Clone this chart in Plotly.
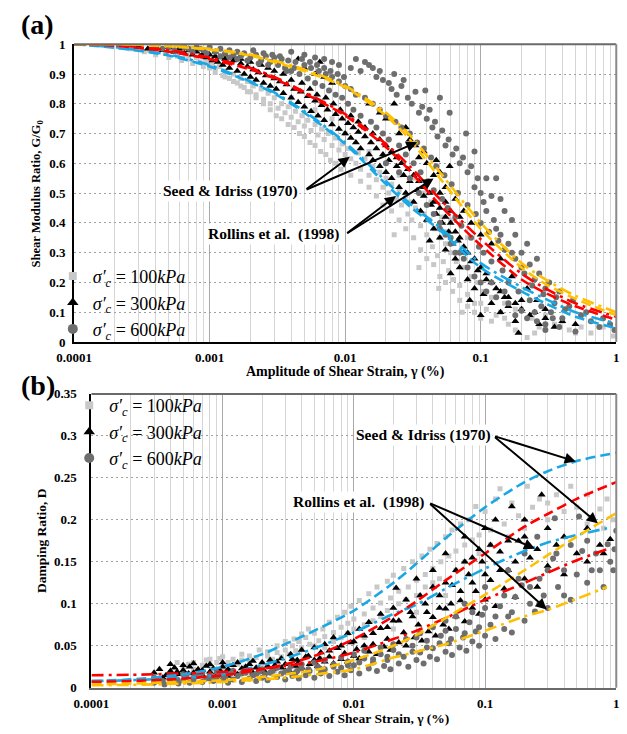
import math
import plotly.graph_objects as go

W, H = 627, 734
SERIF = "Liberation Serif, Times New Roman, serif"

# ---------------------------------------------------------------- data
# reference curves share a strain grid (%)
curve_strain = [0.0001, 0.0002, 0.0005, 0.001, 0.002, 0.003, 0.005, 0.01,
                0.02, 0.03, 0.05, 0.1, 0.2, 0.3, 0.5, 1.0]

# (a) G/G0 curves
gg_seed_lower = [1.0, 0.988, 0.962, 0.925, 0.872, 0.835, 0.77, 0.665,
                 0.53, 0.455, 0.375, 0.25, 0.17, 0.13, 0.085, 0.046]
gg_seed_mean = [1.0, 0.995, 0.975, 0.95, 0.915, 0.885, 0.835, 0.76,
                0.655, 0.575, 0.46, 0.325, 0.21, 0.165, 0.12, 0.075]
gg_seed_upper = [1.0, 1.0, 0.993, 0.982, 0.962, 0.94, 0.91, 0.855,
                 0.76, 0.68, 0.55, 0.38, 0.25, 0.195, 0.145, 0.09]
gg_rollins_lower = [1.0, 0.99, 0.965, 0.93, 0.875, 0.838, 0.775, 0.67,
                    0.54, 0.465, 0.385, 0.265, 0.185, 0.145, 0.1, 0.062]
gg_rollins_mean = [1.0, 0.997, 0.98, 0.955, 0.92, 0.89, 0.84, 0.765,
                   0.665, 0.59, 0.48, 0.345, 0.23, 0.18, 0.13, 0.085]
gg_rollins_upper = [1.0, 1.0, 0.995, 0.985, 0.965, 0.945, 0.915, 0.86,
                    0.77, 0.695, 0.57, 0.4, 0.265, 0.21, 0.155, 0.1]

# (b) damping curves
d_seed_upper = [0.008, 0.010, 0.016, 0.025, 0.04, 0.052, 0.068, 0.092,
                0.125, 0.148, 0.178, 0.215, 0.245, 0.258, 0.27, 0.28]
d_seed_mean = [0.007, 0.008, 0.011, 0.015, 0.022, 0.028, 0.038, 0.058,
               0.085, 0.103, 0.128, 0.16, 0.192, 0.207, 0.225, 0.245]
d_seed_lower = [0.004, 0.005, 0.007, 0.009, 0.013, 0.016, 0.021, 0.033,
                0.05, 0.063, 0.083, 0.111, 0.14, 0.158, 0.18, 0.208]
rollins_d_strain = [0.0001, 0.0002, 0.0005, 0.001, 0.002, 0.003, 0.005, 0.01,
                    0.02, 0.03, 0.05, 0.1, 0.2, 0.3, 0.5, 0.85]
d_rollins_upper = [0.008, 0.009, 0.012, 0.016, 0.027, 0.035, 0.047, 0.066,
                   0.088, 0.099, 0.118, 0.142, 0.163, 0.173, 0.182, 0.19]
d_rollins_mean = [0.015, 0.0155, 0.017, 0.019, 0.023, 0.026, 0.031, 0.042,
                  0.058, 0.068, 0.083, 0.105, 0.125, 0.137, 0.152, 0.165]
d_rollins_lower = [0.003, 0.0035, 0.005, 0.007, 0.01, 0.012, 0.016, 0.022,
                   0.036, 0.043, 0.052, 0.068, 0.085, 0.093, 0.106, 0.12]

# (a) measured G/G0, (strain %, G/G0)
gg_100 = [
    (0.00022, 0.99), (0.00026, 0.985), (0.0003, 0.99), (0.00033, 0.975), (0.00036, 0.98),
    (0.0004, 0.965), (0.00043, 0.985), (0.00047, 0.97), (0.0005, 0.955), (0.00054, 0.975),
    (0.00058, 0.96), (0.00062, 0.945), (0.00066, 0.965), (0.0007, 0.95), (0.00075, 0.935),
    (0.0008, 0.955), (0.00085, 0.94), (0.0009, 0.925), (0.00095, 0.945),
    (0.001, 0.92), (0.00105, 0.935), (0.0011, 0.905), (0.00118, 0.925), (0.00125, 0.895),
    (0.0013, 0.91), (0.0014, 0.885), (0.0015, 0.9), (0.0016, 0.87), (0.0017, 0.885),
    (0.0018, 0.855), (0.0019, 0.875), (0.002, 0.84), (0.0021, 0.86), (0.0022, 0.83),
    (0.0024, 0.85), (0.0025, 0.815), (0.0027, 0.835), (0.0028, 0.8),
    (0.003, 0.82), (0.0032, 0.785), (0.0034, 0.8), (0.0036, 0.77), (0.0038, 0.79),
    (0.004, 0.755), (0.0043, 0.775), (0.0045, 0.74), (0.0048, 0.76), (0.005, 0.725),
    (0.0053, 0.745), (0.0056, 0.71), (0.006, 0.73), (0.0063, 0.695), (0.0067, 0.715),
    (0.007, 0.68), (0.0075, 0.7), (0.008, 0.66), (0.0085, 0.685), (0.009, 0.645),
    (0.0095, 0.665),
    (0.01, 0.63), (0.0105, 0.65), (0.011, 0.615), (0.012, 0.6), (0.0125, 0.635),
    (0.013, 0.58), (0.014, 0.615), (0.015, 0.56), (0.016, 0.59), (0.017, 0.545),
    (0.018, 0.57), (0.019, 0.52), (0.02, 0.55), (0.021, 0.5), (0.022, 0.53),
    (0.023, 0.36), (0.024, 0.48), (0.025, 0.51), (0.026, 0.46), (0.028, 0.49),
    (0.029, 0.43),
    (0.03, 0.47), (0.031, 0.41), (0.032, 0.55), (0.033, 0.45), (0.035, 0.25),
    (0.036, 0.39), (0.037, 0.5), (0.038, 0.43), (0.04, 0.36), (0.042, 0.41),
    (0.043, 0.47), (0.044, 0.32), (0.046, 0.38), (0.048, 0.29), (0.049, 0.18),
    (0.05, 0.35), (0.052, 0.42), (0.053, 0.27), (0.055, 0.33), (0.057, 0.37),
    (0.058, 0.24), (0.06, 0.3), (0.063, 0.21), (0.066, 0.27), (0.07, 0.19),
    (0.073, 0.1), (0.075, 0.25), (0.08, 0.16), (0.085, 0.22), (0.09, 0.13),
    (0.095, 0.2),
    (0.1, 0.08), (0.105, 0.17), (0.11, 0.11), (0.12, 0.15), (0.13, 0.09),
    (0.14, 0.1), (0.15, 0.13), (0.16, 0.06), (0.18, 0.11), (0.2, 0.11),
    (0.22, 0.015), (0.24, 0.08), (0.27, 0.05), (0.3, 0.09), (0.35, 0.06),
    (0.4, 0.07), (0.45, 0.04), (0.55, 0.05), (0.65, 0.03), (0.8, 0.05),
    (0.95, 0.02),
    (0.0005, 0.985), (0.0006, 0.975), (0.0007, 0.97), (0.0009, 0.96), (0.0011, 0.92),
    (0.0013, 0.89), (0.0015, 0.875), (0.0017, 0.86), (0.0019, 0.84), (0.0022, 0.82),
    (0.0025, 0.8), (0.0028, 0.78), (0.0031, 0.76), (0.0034, 0.75), (0.0038, 0.73),
    (0.0042, 0.72), (0.0046, 0.7), (0.005, 0.69), (0.0055, 0.67), (0.006, 0.66),
    (0.0066, 0.64), (0.0072, 0.63), (0.0078, 0.61), (0.0085, 0.6), (0.0093, 0.58),
    (0.011, 0.56), (0.013, 0.54), (0.015, 0.52), (0.017, 0.49), (0.019, 0.46),
    (0.022, 0.44), (0.025, 0.41), (0.028, 0.38), (0.032, 0.35), (0.036, 0.31),
    (0.04, 0.28), (0.045, 0.26), (0.05, 0.22), (0.055, 0.2), (0.062, 0.17),
    (0.07, 0.14), (0.08, 0.12), (0.09, 0.1), (0.1, 0.13), (0.12, 0.07),
    (0.15, 0.08), (0.18, 0.04), (0.25, 0.03), (0.3, 0.05), (0.5, 0.03),
    (0.004, 0.82), (0.006, 0.78), (0.008, 0.75), (0.01, 0.7), (0.015, 0.64),
    (0.02, 0.6), (0.025, 0.56), (0.04, 0.5), (0.06, 0.41), (0.08, 0.35),
]

gg_300 = [
    (0.0003, 0.995), (0.00035, 0.985), (0.0004, 0.99), (0.00045, 0.98), (0.0005, 0.99),
    (0.00055, 0.975), (0.0006, 0.985), (0.00065, 0.97), (0.0007, 0.98), (0.00075, 0.965),
    (0.0008, 0.975), (0.00085, 0.96), (0.0009, 0.97), (0.00095, 0.955),
    (0.001, 0.965), (0.00105, 0.945), (0.0011, 0.96), (0.00115, 0.94), (0.0012, 0.955),
    (0.00125, 0.93), (0.0013, 0.95), (0.0014, 0.92), (0.0015, 0.945), (0.0016, 0.91),
    (0.0017, 0.935), (0.0018, 0.9), (0.0019, 0.925), (0.002, 0.89), (0.0021, 0.915),
    (0.0022, 0.88), (0.0023, 0.905), (0.0025, 0.87), (0.0026, 0.895), (0.0028, 0.86),
    (0.003, 0.885), (0.0031, 0.85), (0.0033, 0.875), (0.0035, 0.835), (0.0037, 0.865),
    (0.004, 0.82), (0.0042, 0.85), (0.0045, 0.95), (0.0045, 0.805), (0.0047, 0.84),
    (0.005, 0.79), (0.005, 0.92), (0.0053, 0.825), (0.0056, 0.775), (0.006, 0.81),
    (0.006, 0.9), (0.0063, 0.76), (0.0065, 0.94), (0.0067, 0.795), (0.007, 0.745),
    (0.007, 0.89), (0.0074, 0.78), (0.008, 0.73), (0.008, 0.87), (0.0085, 0.765),
    (0.009, 0.715), (0.0095, 0.75),
    (0.01, 0.7), (0.0105, 0.735), (0.011, 0.685), (0.0115, 0.72), (0.012, 0.67),
    (0.0125, 0.705), (0.013, 0.65), (0.014, 0.69), (0.015, 0.63), (0.0155, 0.67),
    (0.016, 0.61), (0.017, 0.65), (0.018, 0.59), (0.019, 0.63), (0.02, 0.57),
    (0.02, 0.75), (0.021, 0.61), (0.022, 0.55), (0.023, 0.8), (0.024, 0.59),
    (0.025, 0.52), (0.025, 0.7), (0.027, 0.56), (0.028, 0.5),
    (0.03, 0.54), (0.03, 0.68), (0.032, 0.47), (0.034, 0.51), (0.035, 0.62),
    (0.036, 0.44), (0.038, 0.49), (0.04, 0.41), (0.04, 0.6), (0.042, 0.34),
    (0.043, 0.46), (0.045, 0.38), (0.045, 0.56), (0.047, 0.43), (0.047, 0.61),
    (0.05, 0.35), (0.05, 0.5), (0.052, 0.4), (0.055, 0.31), (0.055, 0.47),
    (0.058, 0.37), (0.059, 0.59), (0.06, 0.23), (0.06, 0.44), (0.062, 0.33),
    (0.065, 0.28), (0.068, 0.34), (0.07, 0.25), (0.07, 0.42), (0.075, 0.3),
    (0.08, 0.21), (0.083, 0.14), (0.085, 0.27), (0.09, 0.18), (0.095, 0.24),
    (0.1, 0.09), (0.105, 0.16), (0.11, 0.21), (0.12, 0.13), (0.13, 0.18),
    (0.14, 0.1), (0.15, 0.15), (0.16, 0.12), (0.18, 0.07), (0.19, 0.03),
    (0.2, 0.11), (0.23, 0.09), (0.27, 0.06), (0.3, 0.08), (0.35, 0.05),
    (0.4, 0.07),
    (0.0011, 0.975), (0.0013, 0.965), (0.0015, 0.96), (0.0017, 0.95), (0.002, 0.94),
    (0.0024, 0.93), (0.0027, 0.92), (0.003, 0.91), (0.0035, 0.9), (0.004, 0.88),
    (0.0048, 0.87), (0.0055, 0.85), (0.0062, 0.83), (0.0072, 0.82), (0.0082, 0.8),
    (0.0092, 0.78), (0.011, 0.76), (0.0125, 0.74), (0.014, 0.72), (0.016, 0.7),
    (0.018, 0.68), (0.02, 0.66), (0.022, 0.64), (0.024, 0.62), (0.026, 0.6),
    (0.029, 0.58), (0.032, 0.56), (0.035, 0.54), (0.038, 0.52), (0.042, 0.5),
    (0.045, 0.47), (0.05, 0.45), (0.055, 0.42), (0.06, 0.4), (0.065, 0.37),
    (0.07, 0.35), (0.075, 0.32), (0.08, 0.3), (0.09, 0.28), (0.1, 0.25),
    (0.11, 0.23), (0.12, 0.2), (0.14, 0.17), (0.16, 0.15), (0.18, 0.13),
    (0.2, 0.14), (0.25, 0.1), (0.3, 0.11), (0.5, 0.06),
    (0.015, 0.8), (0.018, 0.77), (0.028, 0.72), (0.033, 0.66), (0.038, 0.64),
    (0.05, 0.57), (0.055, 0.52), (0.065, 0.48), (0.075, 0.44), (0.085, 0.4),
    (0.1, 0.36), (0.12, 0.33), (0.14, 0.28), (0.17, 0.22), (0.22, 0.18),
    (0.26, 0.14),
]

gg_600 = [
    (0.0004, 0.995), (0.0005, 0.99), (0.0006, 0.995), (0.0007, 0.985), (0.0008, 0.99),
    (0.0009, 0.98), (0.001, 0.99), (0.0011, 0.975), (0.0012, 0.985), (0.0013, 0.97),
    (0.0014, 0.98), (0.0015, 0.965), (0.0016, 0.975), (0.0017, 0.96), (0.0018, 0.97),
    (0.002, 0.955), (0.0022, 0.965), (0.0024, 0.945), (0.0026, 0.96), (0.0028, 0.94),
    (0.003, 0.955), (0.0032, 0.93), (0.0034, 0.95), (0.0036, 0.92), (0.0038, 0.945),
    (0.004, 0.91), (0.004, 0.975), (0.0043, 0.94), (0.0046, 0.9), (0.005, 0.93),
    (0.005, 0.965), (0.0053, 0.885), (0.0056, 0.92), (0.006, 0.87), (0.006, 0.955),
    (0.0064, 0.91), (0.0068, 0.86), (0.007, 0.95), (0.0072, 0.9), (0.0076, 0.845),
    (0.008, 0.89), (0.008, 0.94), (0.0085, 0.83), (0.009, 0.875), (0.009, 0.93),
    (0.0095, 0.82),
    (0.01, 0.86), (0.0105, 0.8), (0.011, 0.85), (0.011, 0.92), (0.0115, 0.78),
    (0.012, 0.83), (0.013, 0.76), (0.013, 0.91), (0.014, 0.82), (0.015, 0.93),
    (0.0155, 0.74), (0.016, 0.8), (0.017, 0.72), (0.017, 0.89), (0.018, 0.78),
    (0.019, 0.7), (0.02, 0.76), (0.021, 0.68), (0.023, 0.9), (0.0235, 0.74),
    (0.025, 0.66), (0.026, 0.72), (0.027, 0.88), (0.028, 0.63),
    (0.03, 0.7), (0.032, 0.6), (0.034, 0.67), (0.036, 0.57), (0.038, 0.65),
    (0.039, 0.845), (0.041, 0.54), (0.043, 0.62), (0.045, 0.51), (0.047, 0.59),
    (0.05, 0.82), (0.05, 0.4), (0.052, 0.48), (0.054, 0.56), (0.057, 0.45),
    (0.059, 0.77), (0.06, 0.35), (0.061, 0.53), (0.065, 0.42), (0.068, 0.5),
    (0.07, 0.3), (0.072, 0.39), (0.078, 0.7), (0.08, 0.46), (0.085, 0.35),
    (0.09, 0.64), (0.09, 0.22), (0.092, 0.43), (0.097, 0.32),
    (0.1, 0.4), (0.105, 0.3), (0.11, 0.55), (0.115, 0.37), (0.12, 0.27),
    (0.12, 0.2), (0.13, 0.55), (0.135, 0.34), (0.14, 0.48), (0.145, 0.24),
    (0.15, 0.31), (0.15, 0.17), (0.16, 0.2), (0.17, 0.41), (0.18, 0.28),
    (0.19, 0.17), (0.2, 0.25), (0.2, 0.105), (0.22, 0.33), (0.23, 0.14),
    (0.25, 0.21), (0.25, 0.1), (0.26, 0.28), (0.28, 0.12), (0.3, 0.18),
    (0.3, 0.06), (0.33, 0.1), (0.34, 0.08), (0.36, 0.15), (0.4, 0.08),
    (0.45, 0.12), (0.5, 0.035), (0.55, 0.09), (0.65, 0.07), (0.75, 0.05),
    (0.9, 0.06), (0.97, 0.04),
    (0.012, 0.95), (0.014, 0.94), (0.016, 0.92), (0.018, 0.91), (0.019, 0.88),
    (0.021, 0.87), (0.022, 0.85), (0.024, 0.83), (0.026, 0.86), (0.029, 0.82),
    (0.031, 0.8), (0.033, 0.84), (0.035, 0.77), (0.037, 0.79), (0.04, 0.75),
    (0.042, 0.78), (0.044, 0.72), (0.046, 0.74), (0.048, 0.69), (0.052, 0.71),
    (0.055, 0.66), (0.058, 0.68), (0.062, 0.63), (0.066, 0.65), (0.07, 0.6),
    (0.074, 0.62), (0.08, 0.57), (0.085, 0.59), (0.09, 0.52), (0.095, 0.55),
    (0.1, 0.5), (0.105, 0.47), (0.11, 0.44), (0.12, 0.49), (0.125, 0.41),
    (0.13, 0.38), (0.14, 0.36), (0.15, 0.44), (0.16, 0.33), (0.17, 0.3),
    (0.18, 0.36), (0.2, 0.3), (0.21, 0.23), (0.23, 0.26), (0.24, 0.19),
    (0.27, 0.23), (0.29, 0.16), (0.32, 0.2), (0.35, 0.13), (0.38, 0.17),
    (0.42, 0.11), (0.48, 0.14), (0.6, 0.1), (0.8, 0.08),
    (0.02, 0.6), (0.025, 0.57), (0.03, 0.55), (0.035, 0.5), (0.04, 0.46),
    (0.045, 0.43), (0.05, 0.38), (0.055, 0.36), (0.06, 0.33), (0.065, 0.3),
    (0.075, 0.28), (0.08, 0.25), (0.1, 0.2), (0.11, 0.17), (0.13, 0.15),
    (0.16, 0.13), (0.18, 0.09), (0.22, 0.08), (0.26, 0.07), (0.3, 0.04),
    (0.38, 0.05),
    (0.00045, 0.985), (0.00055, 0.98), (0.00065, 0.99), (0.00075, 0.975), (0.00085, 0.985),
    (0.00095, 0.97), (0.0012, 0.96), (0.0014, 0.955), (0.0016, 0.95), (0.0019, 0.945),
    (0.0021, 0.98), (0.0023, 0.935), (0.0025, 0.97), (0.0027, 0.93), (0.0029, 0.965),
    (0.0033, 0.96), (0.0037, 0.91), (0.0042, 0.92), (0.0048, 0.95), (0.0055, 0.94),
    (0.0062, 0.93), (0.007, 0.92), (0.0078, 0.91), (0.0088, 0.9), (0.0098, 0.89),
]

# (b) measured damping, (strain %, D)
d_100 = [
    (0.0003, 0.012), (0.0004, 0.015), (0.00045, 0.03), (0.0005, 0.016), (0.00055, 0.028),
    (0.0006, 0.022), (0.0007, 0.018), (0.00075, 0.033), (0.0008, 0.026), (0.0009, 0.02),
    (0.00095, 0.035), (0.001, 0.024), (0.0011, 0.03), (0.0012, 0.021), (0.0013, 0.028),
    (0.0014, 0.033), (0.0015, 0.025), (0.0016, 0.031), (0.0017, 0.015), (0.0018, 0.036),
    (0.002, 0.029), (0.0022, 0.038), (0.0024, 0.034), (0.0025, 0.02), (0.0026, 0.042),
    (0.0028, 0.037), (0.003, 0.045), (0.0032, 0.04), (0.0034, 0.05), (0.0035, 0.025),
    (0.0036, 0.044), (0.0038, 0.055), (0.004, 0.048), (0.0043, 0.06), (0.0046, 0.052),
    (0.005, 0.065), (0.0054, 0.056), (0.0055, 0.035), (0.0058, 0.07), (0.006, 0.061),
    (0.0065, 0.078), (0.007, 0.066), (0.0075, 0.084), (0.008, 0.072), (0.0085, 0.09),
    (0.009, 0.077), (0.0095, 0.097),
    (0.01, 0.082), (0.011, 0.104), (0.012, 0.088), (0.012, 0.06), (0.013, 0.112),
    (0.014, 0.095), (0.015, 0.12), (0.016, 0.101), (0.018, 0.127), (0.019, 0.107),
    (0.02, 0.134), (0.02, 0.07), (0.022, 0.115), (0.024, 0.142), (0.026, 0.12),
    (0.028, 0.15), (0.03, 0.128), (0.03, 0.09), (0.033, 0.157), (0.035, 0.135),
    (0.038, 0.165), (0.04, 0.142), (0.043, 0.172), (0.046, 0.15), (0.05, 0.18),
    (0.05, 0.11), (0.053, 0.157), (0.056, 0.188), (0.06, 0.163), (0.065, 0.195),
    (0.07, 0.17), (0.075, 0.2), (0.08, 0.176), (0.085, 0.216), (0.09, 0.182),
    (0.1, 0.21), (0.11, 0.188), (0.12, 0.225), (0.13, 0.237), (0.14, 0.195),
    (0.16, 0.22), (0.18, 0.205), (0.21, 0.24), (0.23, 0.215), (0.26, 0.225),
    (0.3, 0.2), (0.35, 0.23), (0.4, 0.21), (0.5, 0.215), (0.6, 0.195),
    (0.75, 0.213), (0.85, 0.225), (0.95, 0.2),
    (0.0005, 0.025), (0.0006, 0.03), (0.0007, 0.027), (0.0008, 0.034), (0.0009, 0.03),
    (0.001, 0.037), (0.0012, 0.034), (0.0014, 0.04), (0.0016, 0.038), (0.0019, 0.045),
    (0.0022, 0.043), (0.0026, 0.05), (0.003, 0.055), (0.0035, 0.058), (0.004, 0.064),
    (0.0045, 0.07), (0.005, 0.05), (0.006, 0.048), (0.007, 0.055), (0.008, 0.06),
    (0.009, 0.065), (0.01, 0.07), (0.012, 0.075), (0.014, 0.08), (0.016, 0.085),
    (0.018, 0.092), (0.022, 0.1), (0.025, 0.105), (0.03, 0.11), (0.035, 0.12),
    (0.04, 0.125), (0.045, 0.13), (0.06, 0.14), (0.07, 0.15), (0.09, 0.16),
    (0.11, 0.17), (0.15, 0.18), (0.2, 0.19), (0.3, 0.22), (0.45, 0.24),
    (0.6, 0.23), (0.8, 0.19),
]

d_300 = [
    (0.0003, 0.018), (0.00033, 0.022), (0.00037, 0.015), (0.0004, 0.02), (0.00043, 0.024),
    (0.00046, 0.016), (0.0005, 0.021), (0.00053, 0.013), (0.00056, 0.025), (0.0006, 0.018),
    (0.00065, 0.022), (0.0007, 0.015), (0.00075, 0.026), (0.0008, 0.019), (0.00085, 0.023),
    (0.0009, 0.014), (0.00095, 0.021), (0.001, 0.025), (0.00105, 0.017), (0.0011, 0.022),
    (0.00115, 0.019), (0.0012, 0.027), (0.0013, 0.016), (0.0014, 0.023), (0.0015, 0.02),
    (0.0016, 0.028), (0.0017, 0.018), (0.0018, 0.024), (0.0019, 0.021), (0.002, 0.03),
    (0.0021, 0.019), (0.0022, 0.026), (0.0024, 0.022), (0.0026, 0.031), (0.0028, 0.024),
    (0.003, 0.028), (0.0032, 0.021), (0.0034, 0.034), (0.0036, 0.026), (0.0038, 0.03),
    (0.004, 0.024), (0.0043, 0.037), (0.0046, 0.028), (0.005, 0.033), (0.0053, 0.026),
    (0.0056, 0.042), (0.006, 0.031), (0.0065, 0.037), (0.007, 0.029), (0.0075, 0.047),
    (0.008, 0.034), (0.0085, 0.041), (0.009, 0.031), (0.0095, 0.054),
    (0.01, 0.038), (0.0105, 0.046), (0.011, 0.035), (0.012, 0.062), (0.013, 0.043),
    (0.014, 0.052), (0.015, 0.04), (0.016, 0.071), (0.017, 0.049), (0.018, 0.058),
    (0.019, 0.045), (0.02, 0.08), (0.021, 0.119), (0.022, 0.054), (0.024, 0.066),
    (0.025, 0.05), (0.027, 0.09), (0.029, 0.06), (0.03, 0.13), (0.031, 0.075),
    (0.033, 0.056), (0.035, 0.1), (0.037, 0.067), (0.04, 0.084), (0.04, 0.14),
    (0.042, 0.062), (0.045, 0.11), (0.048, 0.075), (0.05, 0.094), (0.05, 0.16),
    (0.053, 0.07), (0.056, 0.122), (0.06, 0.085), (0.065, 0.104), (0.07, 0.079),
    (0.07, 0.18), (0.075, 0.135), (0.08, 0.095), (0.08, 0.155), (0.085, 0.115),
    (0.09, 0.088), (0.095, 0.15), (0.1, 0.105), (0.1, 0.19), (0.11, 0.128),
    (0.12, 0.097), (0.12, 0.2), (0.13, 0.162), (0.14, 0.118), (0.15, 0.14),
    (0.16, 0.216), (0.17, 0.108), (0.18, 0.175), (0.2, 0.13), (0.2, 0.2),
    (0.22, 0.155), (0.25, 0.12), (0.27, 0.23), (0.3, 0.145), (0.35, 0.17),
    (0.4, 0.135), (0.5, 0.16), (0.6, 0.15), (0.75, 0.17), (0.9, 0.177),
    (0.00035, 0.012), (0.0004, 0.028), (0.00045, 0.019), (0.0005, 0.027), (0.00055, 0.017),
    (0.0006, 0.029), (0.0007, 0.021), (0.0008, 0.028), (0.0009, 0.018), (0.001, 0.03),
    (0.0011, 0.014), (0.0012, 0.02), (0.0013, 0.03), (0.0015, 0.025), (0.0017, 0.032),
    (0.002, 0.02), (0.0023, 0.033), (0.0025, 0.027), (0.0028, 0.035), (0.003, 0.02),
    (0.0033, 0.04), (0.0037, 0.033), (0.004, 0.045), (0.0045, 0.038), (0.005, 0.048),
    (0.0055, 0.035), (0.006, 0.052), (0.0065, 0.044), (0.007, 0.06), (0.008, 0.05),
    (0.009, 0.065), (0.01, 0.055), (0.011, 0.07), (0.012, 0.05), (0.013, 0.078),
    (0.014, 0.065), (0.016, 0.088), (0.018, 0.072), (0.02, 0.095), (0.022, 0.08),
    (0.025, 0.105), (0.028, 0.085), (0.032, 0.11), (0.036, 0.09), (0.04, 0.12),
    (0.045, 0.095), (0.05, 0.125), (0.055, 0.1), (0.06, 0.14), (0.065, 0.115),
    (0.07, 0.15), (0.08, 0.125), (0.09, 0.165), (0.1, 0.135), (0.11, 0.17),
    (0.13, 0.14), (0.15, 0.175), (0.17, 0.15), (0.2, 0.18), (0.25, 0.165),
    (0.3, 0.19), (0.4, 0.18), (0.6, 0.19), (0.8, 0.16),
]

d_600 = [
    (0.0003, 0.006), (0.00033, 0.01), (0.00036, 0.004), (0.0004, 0.008), (0.00043, 0.012),
    (0.00046, 0.005), (0.0005, 0.009), (0.00053, 0.013), (0.00056, 0.006), (0.0006, 0.01),
    (0.00065, 0.014), (0.0007, 0.007), (0.00075, 0.011), (0.0008, 0.015), (0.00085, 0.008),
    (0.0009, 0.012), (0.00095, 0.016), (0.001, 0.009), (0.00105, 0.013), (0.0011, 0.006),
    (0.00115, 0.017), (0.0012, 0.01), (0.0013, 0.014), (0.0014, 0.007), (0.0015, 0.018),
    (0.0016, 0.011), (0.0017, 0.015), (0.0018, 0.008), (0.0019, 0.019), (0.002, 0.012),
    (0.0021, 0.016), (0.0022, 0.009), (0.0024, 0.02), (0.0026, 0.013), (0.0028, 0.017),
    (0.003, 0.01), (0.0032, 0.021), (0.0034, 0.014), (0.0036, 0.018), (0.0038, 0.011),
    (0.004, 0.023), (0.0043, 0.015), (0.0046, 0.02), (0.005, 0.012), (0.0053, 0.025),
    (0.0056, 0.017), (0.006, 0.022), (0.0065, 0.014), (0.007, 0.028), (0.0075, 0.019),
    (0.008, 0.024), (0.0085, 0.015), (0.009, 0.031), (0.0095, 0.021),
    (0.01, 0.027), (0.011, 0.017), (0.012, 0.035), (0.013, 0.023), (0.014, 0.03),
    (0.015, 0.02), (0.016, 0.04), (0.017, 0.026), (0.018, 0.033), (0.019, 0.022),
    (0.02, 0.045), (0.022, 0.029), (0.024, 0.037), (0.026, 0.025), (0.028, 0.05),
    (0.03, 0.033), (0.03, 0.06), (0.032, 0.042), (0.034, 0.029), (0.036, 0.056),
    (0.038, 0.037), (0.04, 0.047), (0.043, 0.034), (0.046, 0.062), (0.05, 0.043),
    (0.05, 0.08), (0.053, 0.053), (0.056, 0.039), (0.06, 0.07), (0.064, 0.048),
    (0.068, 0.06), (0.07, 0.1), (0.072, 0.044), (0.076, 0.078), (0.08, 0.055),
    (0.085, 0.067), (0.09, 0.05), (0.095, 0.087), (0.1, 0.062), (0.1, 0.12),
    (0.11, 0.075), (0.12, 0.058), (0.13, 0.097), (0.14, 0.07), (0.15, 0.085),
    (0.15, 0.14), (0.16, 0.066), (0.17, 0.108), (0.19, 0.122), (0.2, 0.08),
    (0.2, 0.16), (0.22, 0.1), (0.24, 0.091), (0.25, 0.18), (0.26, 0.13),
    (0.28, 0.11), (0.3, 0.095), (0.33, 0.154), (0.34, 0.202), (0.36, 0.12),
    (0.4, 0.14), (0.45, 0.105), (0.5, 0.135), (0.52, 0.204), (0.55, 0.163),
    (0.6, 0.125), (0.7, 0.16), (0.75, 0.14), (0.86, 0.171), (0.9, 0.15),
    (0.97, 0.165), (1.0, 0.187),
    (0.0003, 0.012), (0.00035, 0.008), (0.0004, 0.014), (0.00045, 0.01), (0.0005, 0.016),
    (0.0006, 0.012), (0.0007, 0.018), (0.0008, 0.011), (0.0009, 0.019), (0.001, 0.015),
    (0.0012, 0.02), (0.0014, 0.017), (0.0016, 0.021), (0.0018, 0.016), (0.002, 0.022),
    (0.0023, 0.018), (0.0026, 0.024), (0.003, 0.019), (0.0033, 0.026), (0.0037, 0.02),
    (0.004, 0.028), (0.0045, 0.022), (0.005, 0.03), (0.0055, 0.023), (0.006, 0.033),
    (0.007, 0.025), (0.008, 0.036), (0.009, 0.027), (0.01, 0.04), (0.011, 0.03),
    (0.012, 0.044), (0.014, 0.034), (0.016, 0.048), (0.018, 0.037), (0.02, 0.052),
    (0.022, 0.04), (0.025, 0.058), (0.028, 0.043), (0.032, 0.065), (0.036, 0.048),
    (0.04, 0.072), (0.045, 0.053), (0.05, 0.068), (0.055, 0.058), (0.06, 0.085),
    (0.07, 0.065), (0.08, 0.09), (0.09, 0.072), (0.1, 0.095), (0.12, 0.085),
    (0.14, 0.11), (0.16, 0.09), (0.18, 0.13), (0.22, 0.12), (0.26, 0.1),
    (0.3, 0.14), (0.35, 0.16), (0.4, 0.11), (0.45, 0.17), (0.6, 0.175),
    (0.65, 0.14), (0.8, 0.12), (0.95, 0.14),
]

pressure_labels = ["100", "300", "600"]
strain_ticks = [0.0001, 0.001, 0.01, 0.1, 1]
strain_tick_text = ["0.0001", "0.001", "0.01", "0.1", "1"]
gg_ticks = [0, 0.1, 0.2, 0.3, 0.4, 0.5, 0.6, 0.7, 0.8, 0.9, 1]
gg_tick_text = ["0", "0.1", "0.2", "0.3", "0.4", "0.5", "0.6", "0.7", "0.8", "0.9", "1"]
d_ticks = [0, 0.05, 0.1, 0.15, 0.2, 0.25, 0.3, 0.35]
d_tick_text = ["0", "0.05", "0.1", "0.15", "0.2", "0.25", "0.3", "0.35"]

# ---------------------------------------------------------------- styles
BLUE, RED, YELLOW = "#1aa7e6", "#ff0000", "#ffc000"
DASH = "10px,5px"
DASHDOT = "12px,5px,3px,5px"
marker_styles = [
    dict(symbol="square", color="#c8c8c8", size=5),
    dict(symbol="triangle-up", color="black", size=7),
    dict(symbol="circle", color="#6e6e6e", size=6),
]
legend_markers = [
    dict(symbol="square", color="#c8c8c8", size=8),
    dict(symbol="triangle-up", color="black", size=10),
    dict(symbol="circle", color="#6e6e6e", size=10),
]

fig = go.Figure()


def add_points(pairs, style, xa, ya):
    xs = [p[0] for p in pairs]
    ys = [p[1] for p in pairs]
    fig.add_trace(go.Scatter(x=xs, y=ys, mode="markers", marker=style,
                             xaxis=xa, yaxis=ya, showlegend=False,
                             hoverinfo="skip"))


def add_curve(xs, ys, color, dash, xa, ya):
    fig.add_trace(go.Scatter(x=xs, y=ys, mode="lines",
                             line=dict(color=color, width=2.6, dash=dash, shape="spline", smoothing=0.8),
                             xaxis=xa, yaxis=ya, showlegend=False, hoverinfo="skip"))


# panel (a)
for pairs, st in zip([gg_100, gg_300, gg_600], marker_styles):
    add_points(pairs, st, "x", "y")
for ys, col in [(gg_rollins_lower, BLUE), (gg_rollins_mean, RED), (gg_rollins_upper, YELLOW)]:
    add_curve(curve_strain, ys, col, DASHDOT, "x", "y")
for ys, col in [(gg_seed_lower, BLUE), (gg_seed_mean, RED), (gg_seed_upper, YELLOW)]:
    add_curve(curve_strain, ys, col, DASH, "x", "y")

# panel (b)
for pairs, st in zip([d_100, d_300, d_600], marker_styles):
    add_points(pairs, st, "x2", "y2")
for ys, col in [(d_rollins_upper, BLUE), (d_rollins_mean, RED), (d_rollins_lower, YELLOW)]:
    add_curve(rollins_d_strain, ys, col, DASHDOT, "x2", "y2")
for ys, col in [(d_seed_upper, BLUE), (d_seed_mean, RED), (d_seed_lower, YELLOW)]:
    add_curve(curve_strain, ys, col, DASH, "x2", "y2")

# legend entries
for lg in ["legend", "legend2"]:
    for lab, mk in zip(pressure_labels, legend_markers):
        fig.add_trace(go.Scatter(
            x=[None], y=[None], mode="markers", marker=mk, legend=lg,
            name="<i>σ′<sub>c</sub></i> = " + lab + "<i>kPa</i>"))

# ---------------------------------------------------------------- axes
minor_vals = [m * 10 ** e for e in range(-4, 0) for m in range(2, 10)]
tickfont = dict(family=SERIF, size=13, color="black", weight="bold")


def xaxis_cfg(x0, x1, anchor, line_color, standoff):
    return dict(domain=[x0 / W, x1 / W], anchor=anchor, type="log", range=[-4, 0],
                tickvals=strain_ticks, ticktext=strain_tick_text, tickfont=tickfont,
                ticks="", ticklabelstandoff=standoff,
                showgrid=True, gridcolor="#a9a9a9", gridwidth=1,
                minor=dict(tickvals=minor_vals, showgrid=True, gridcolor="#d6d6d6", gridwidth=1, ticks=""),
                showline=True, linecolor=line_color, linewidth=2, zeroline=False,
                layer="above traces")


def yaxis_cfg(top, bottom, anchor, rng, tv, tt, standoff):
    return dict(domain=[1 - bottom / H, 1 - top / H], anchor=anchor, range=rng,
                tickvals=tv, ticktext=tt, tickfont=tickfont, ticks="",
                ticklabelstandoff=standoff,
                showgrid=True, gridcolor="#a0a0a0", griddash="2px,3px", gridwidth=1,
                showline=True, linecolor="black", linewidth=2, zeroline=False,
                layer="above traces")


legend_font = dict(family=SERIF, size=18, color="black")
fig.update_layout(
    width=W, height=H,
    margin=dict(l=0, r=0, t=0, b=0),
    paper_bgcolor="white", plot_bgcolor="white",
    xaxis=xaxis_cfg(58, 619, "y", "black", 2),
    yaxis=yaxis_cfg(38, 342, "x", [0, 1], gg_ticks, gg_tick_text, 4),
    xaxis2=xaxis_cfg(76, 619, "y2", "#6a6a6a", 3),
    yaxis2=yaxis_cfg(395, 695, "x2", [0, 0.35], d_ticks, d_tick_text, 10),
    legend=dict(x=36 / W, y=1 - 348 / H, xanchor="left", yanchor="bottom",
                bgcolor="rgba(0,0,0,0)", font=legend_font,
                itemclick=False, itemdoubleclick=False, tracegroupgap=0),
    legend2=dict(x=53 / W, y=1 - 388 / H, xanchor="left", yanchor="top",
                 bgcolor="rgba(0,0,0,0)", font=legend_font,
                 itemclick=False, itemdoubleclick=False, tracegroupgap=0),
    showlegend=True,
)

# white panels behind each legend, above the gridlines
for x0, x1, y0, y1 in [(60, 185, 258, 341), (78, 200, 396, 470)]:
    fig.add_shape(type="rect", xref="paper", yref="paper",
                  x0=x0 / W, x1=x1 / W, y0=1 - y1 / H, y1=1 - y0 / H,
                  fillcolor="white", line=dict(width=0), layer="between")

# top / right frame of each plot area
for xr, yr in [("x domain", "y domain"), ("x2 domain", "y2 domain")]:
    fig.add_shape(type="line", xref=xr, yref=yr, x0=0, x1=1, y0=1, y1=1,
                  line=dict(color="#6a6a6a", width=2), layer="above")
    fig.add_shape(type="line", xref=xr, yref=yr, x0=1, x1=1, y0=0, y1=1,
                  line=dict(color="#8a8a8a", width=2), layer="above")

# ---------------------------------------------------------------- text
label_font = dict(family=SERIF, size=15.5, color="black", weight="bold")


def callout(text, xa, ya, pos, tail, tips):
    fig.add_annotation(x=math.log10(pos[0]), y=pos[1], xref=xa, yref=ya, text=text,
                       showarrow=False, font=label_font, bgcolor="white", borderpad=1)
    for tx, ty in tips:
        fig.add_annotation(x=math.log10(tx), y=ty, xref=xa, yref=ya, text="",
                           showarrow=True, axref=xa, ayref=ya,
                           ax=math.log10(tail[0]), ay=tail[1],
                           arrowhead=2, arrowsize=1.1, arrowwidth=2, arrowcolor="black",
                           standoff=0, startstandoff=0)


callout("Seed &amp; Idriss (1970)", "x", "y", (0.00143, 0.507), (0.00506, 0.51),
        [(0.0108, 0.622), (0.034, 0.671)])
callout("Rollins et al.\u00a0\u00a0(1998)", "x", "y", (0.00294, 0.362), (0.0101, 0.362),
        [(0.0237, 0.49), (0.0449, 0.549)])
callout("Seed &amp; Idriss (1970)", "x2", "y2", (0.034, 0.301), (0.116, 0.300),
        [(0.491, 0.2695), (0.724, 0.196)])
callout("Rollins et al.\u00a0\u00a0(1998)", "x2", "y2", (0.0108, 0.2217), (0.0372, 0.2205),
        [(0.24, 0.1657), (0.295, 0.0933)])

paper_text = [
    ("(a)", 2, 18, 28, "left", 0, "middle"),
    ("(b)", 2, 386, 28, "left", 0, "middle"),
    ("Amplitude of Shear Strain, γ (%)", 338.5, 373, 14, "center", 0, "middle"),
    ("Amplitude of Shear Strain, γ (%)", 347.5, 735, 13.5, "center", 0, "bottom"),
    ("Shear Modulus Ratio, G/G<sub>0</sub>", 20, 190, 12.5, "center", -90, "middle"),
    ("Damping Ratio, D", 25, 545, 13.5, "center", -90, "middle"),
]
for txt, px, py, size, anchor, ang, vanchor in paper_text:
    fig.add_annotation(x=px / W, y=1 - py / H, xref="paper", yref="paper", text=txt,
                       showarrow=False, xanchor=anchor, yanchor=vanchor, textangle=ang,
                       borderpad=0,
                       font=dict(family=SERIF, size=size, color="black", weight="bold"))

# the page body keeps no default margin, so the figure fills the window exactly
fig.write_html("out.html",
               post_script="document.body.style.margin='0';document.body.style.overflow='hidden';")
